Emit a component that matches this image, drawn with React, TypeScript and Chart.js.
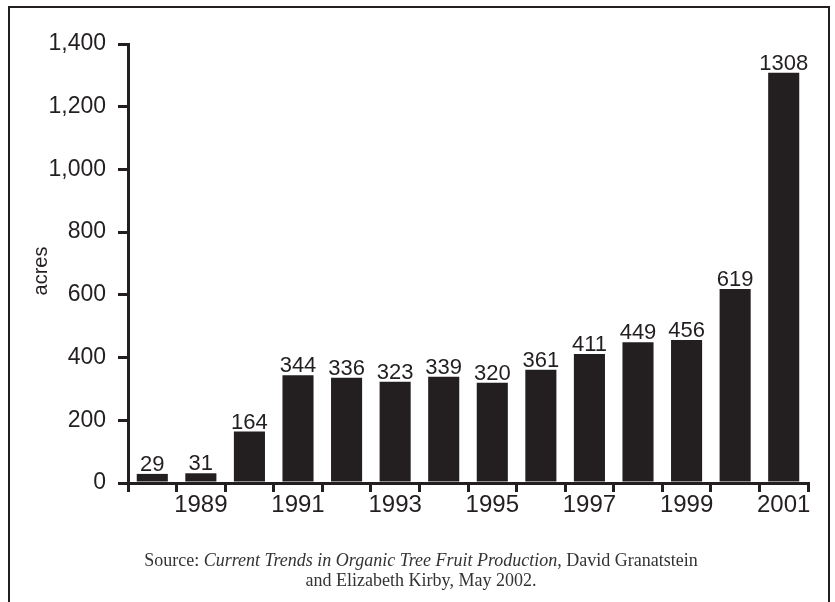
import React, { useEffect, useRef } from "react";
import { Chart, registerables } from "chart.js";

Chart.register(...registerables);

const YEARS = ["1988", "1989", "1990", "1991", "1992", "1993", "1994", "1995", "1996", "1997", "1998", "1999", "2000", "2001"];
const ACRES = [29, 31, 164, 344, 336, 323, 339, 320, 361, 411, 449, 456, 619, 1308];
const X_TICK_LABELS = ["1989", "1991", "1993", "1995", "1997", "1999", "2001"];
const Y_TICKS = [0, 200, 400, 600, 800, 1000, 1200, 1400];
const Y_TITLE = "acres";

const INK = "#231f20";
const SANS = "'Liberation Sans', Arial, sans-serif";

const valueLabels = {
  id: "valueLabels",
  afterDatasetsDraw(chart: any) {
    const ctx = chart.ctx;
    const meta = chart.getDatasetMeta(0);
    ctx.save();
    ctx.fillStyle = INK;
    ctx.font = `22px ${SANS}`;
    ctx.textAlign = "center";
    ctx.textBaseline = "alphabetic";
    meta.data.forEach((bar: any, i: number) => {
      ctx.fillText(String(ACRES[i]), bar.x, bar.y - 3);
    });
    // y-axis title
    ctx.translate(41, 271);
    ctx.rotate(-Math.PI / 2);
    ctx.font = `20px ${SANS}`;
    ctx.textBaseline = "middle";
    ctx.fillText(Y_TITLE, 0, 0);
    ctx.restore();
  },
};

export default function App() {
  const ref = useRef<HTMLCanvasElement | null>(null);
  useEffect(() => {
    if (!ref.current) return;
    const chart = new Chart(ref.current, {
      type: "bar",
      data: {
        labels: YEARS,
        datasets: [
          {
            data: ACRES,
            backgroundColor: INK,
            borderWidth: 0,
            barPercentage: 0.64,
            categoryPercentage: 1,
          },
        ],
      },
      options: {
        responsive: false,
        animation: false,
        layout: { padding: { left: 0, top: 44, right: 27, bottom: 0 } },
        plugins: { legend: { display: false }, tooltip: { enabled: false } },
        scales: {
          x: {
            offset: true,
            afterFit: (s: any) => {
              s.height = 602 - 483;
            },
            grid: {
              offset: true,
              drawOnChartArea: false,
              drawTicks: true,
              tickLength: 9,
              lineWidth: 3,
              color: INK,
            },
            border: { display: true, color: INK, width: 3 },
            ticks: {
              autoSkip: false,
              maxRotation: 0,
              padding: -1,
              color: INK,
              font: { family: SANS, size: 24 },
              callback: (_v: any, i: number) => (X_TICK_LABELS.includes(YEARS[i]) ? YEARS[i] : ""),
            },
          },
          y: {
            min: Y_TICKS[0],
            max: Y_TICKS[Y_TICKS.length - 1],
            afterFit: (s: any) => {
              s.width = 128;
            },
            afterBuildTicks: (s: any) => {
              s.ticks = Y_TICKS.map((v) => ({ value: v }));
            },
            grid: {
              drawOnChartArea: false,
              drawTicks: true,
              tickLength: 10,
              lineWidth: 3,
              color: INK,
            },
            border: { display: true, color: INK, width: 3 },
            ticks: {
              padding: 12,
              color: INK,
              font: { family: SANS, size: 23 },
              callback: (v: any) => Number(v).toLocaleString("en-US"),
            },
          },
        },
      },
      plugins: [valueLabels],
    });
    return () => chart.destroy();
  }, []);

  return (
    <div style={{ position: "absolute", left: 0, top: 0, width: 835, height: 602, overflow: "hidden", background: "#fff" }}>
      <div
        style={{
          position: "absolute",
          left: 8,
          top: 6,
          width: 822,
          height: 700,
          border: `2px solid ${INK}`,
          boxSizing: "border-box",
        }}
      />
      <canvas ref={ref} width={835} height={602} style={{ position: "absolute", left: 0, top: 0 }} />
      <div
        style={{
          position: "absolute",
          left: 0,
          width: 842,
          top: 550,
          textAlign: "center",
          fontFamily: "'Liberation Serif', 'Times New Roman', serif",
          fontSize: 18,
          lineHeight: "20px",
          color: "#333",
        }}
      >
        Source: <i>Current Trends in Organic Tree Fruit Production</i>, David Granatstein
        <br />
        and Elizabeth Kirby, May 2002.
      </div>
    </div>
  );
}
